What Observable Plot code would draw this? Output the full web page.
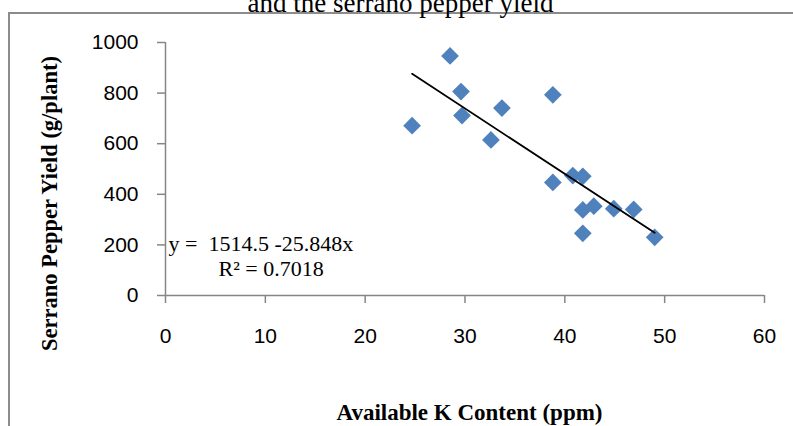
<!DOCTYPE html>
<html><head><meta charset="utf-8">
<script src="https://cdn.jsdelivr.net/npm/d3@7"></script>
<script src="https://cdn.jsdelivr.net/npm/@observablehq/plot@0.6"></script>
<style>
html,body{margin:0;padding:0;background:#fff;}
#wrap{position:relative;width:793px;height:426px;overflow:hidden;}
#frame{position:absolute;left:8px;top:12px;width:820px;height:500px;border-top:2px solid #8c8c8c;border-left:2px solid #8c8c8c;box-sizing:border-box;}
#chart{position:absolute;left:0;top:0;}
</style></head><body>
<div id="wrap"><div id="frame"></div><div id="chart"></div></div>
<script>
const potassium = [24.7, 28.5, 29.6, 29.7, 32.6, 33.7, 38.8, 38.8, 40.8, 41.8, 41.8, 42.9, 41.8, 44.9, 46.9, 49.0];
const yieldVals = [671, 947, 806, 711, 615, 741, 793, 447, 474, 471, 338, 353, 246, 343, 340, 230];
const xTicks = [0, 10, 20, 30, 40, 50, 60];
const yTicks = [0, 200, 400, 600, 800, 1000];
const intercept = 1514.5;
const slope = -25.848;
const rSquared = "0.7018";
const trendX = [24.7, 49.0];
const titleText = "and the serrano pepper yield";
const xLabel = "Available K Content (ppm)";
const yLabel = "Serrano Pepper Yield (g/plant)";

const points = potassium.map((k, i) => ({k, y: yieldVals[i]}));
const trend = trendX.map(k => ({k, y: intercept + slope * k}));
const serif = "'Liberation Serif', 'Times New Roman', serif";
const axisColor = "#868686";

const chart = Plot.plot({
  width: 793,
  height: 426,
  marginLeft: 165,
  marginRight: 29,
  marginTop: 42,
  marginBottom: 131,
  style: {fontFamily: "'Liberation Sans', Arial, sans-serif", background: "transparent", overflow: "visible"},
  x: {domain: [0, 60]},
  y: {domain: [0, 1000]},
  marks: [
    Plot.ruleX([0], {stroke: axisColor, strokeWidth: 1.5}),
    Plot.ruleY([0], {stroke: axisColor, strokeWidth: 1.5}),
    Plot.axisX(xTicks, {tickSize: 8, tickPadding: 25, fontSize: 21, stroke: axisColor, strokeWidth: 1.5, label: null, tickFormat: d => String(d)}),
    Plot.axisY(yTicks, {tickSize: 8, tickPadding: 19, fontSize: 21, stroke: axisColor, strokeWidth: 1.5, label: null, tickFormat: d => String(d)}),
    Plot.dot(points, {x: "k", y: "y", symbol: "diamond2", r: 8, fill: "#4F81BD"}),
    Plot.line(trend, {x: "k", y: "y", stroke: "black", strokeWidth: 1.8}),
    Plot.text([titleText], {frameAnchor: "top", lineAnchor: "bottom", dx: -64.5, dy: -31, fontSize: 27, fontFamily: serif, fill: "black"}),
    Plot.text([`y =\u00a0 ${intercept} ${slope}x`], {frameAnchor: "top-left", textAnchor: "start", lineAnchor: "bottom", dx: 3, dy: 208, fontSize: 22, fontFamily: serif, fill: "black"}),
    Plot.text([`R² = ${rSquared}`], {frameAnchor: "top-left", textAnchor: "start", lineAnchor: "bottom", dx: 53, dy: 233, fontSize: 22, fontFamily: serif, fill: "black"}),
    Plot.text([xLabel], {frameAnchor: "bottom", lineAnchor: "bottom", dx: 469 - 464.5, dy: 124, fontSize: 23, fontWeight: "bold", fontFamily: serif, fill: "black"}),
    Plot.text([yLabel], {frameAnchor: "left", textAnchor: "middle", rotate: -90, lineAnchor: "bottom", dx: 56 - 165, dy: 203 - 168.5, fontSize: 22.5, fontWeight: "bold", fontFamily: serif, fill: "black"})
  ]
});
document.getElementById("chart").appendChild(chart);
</script>
</body></html>
